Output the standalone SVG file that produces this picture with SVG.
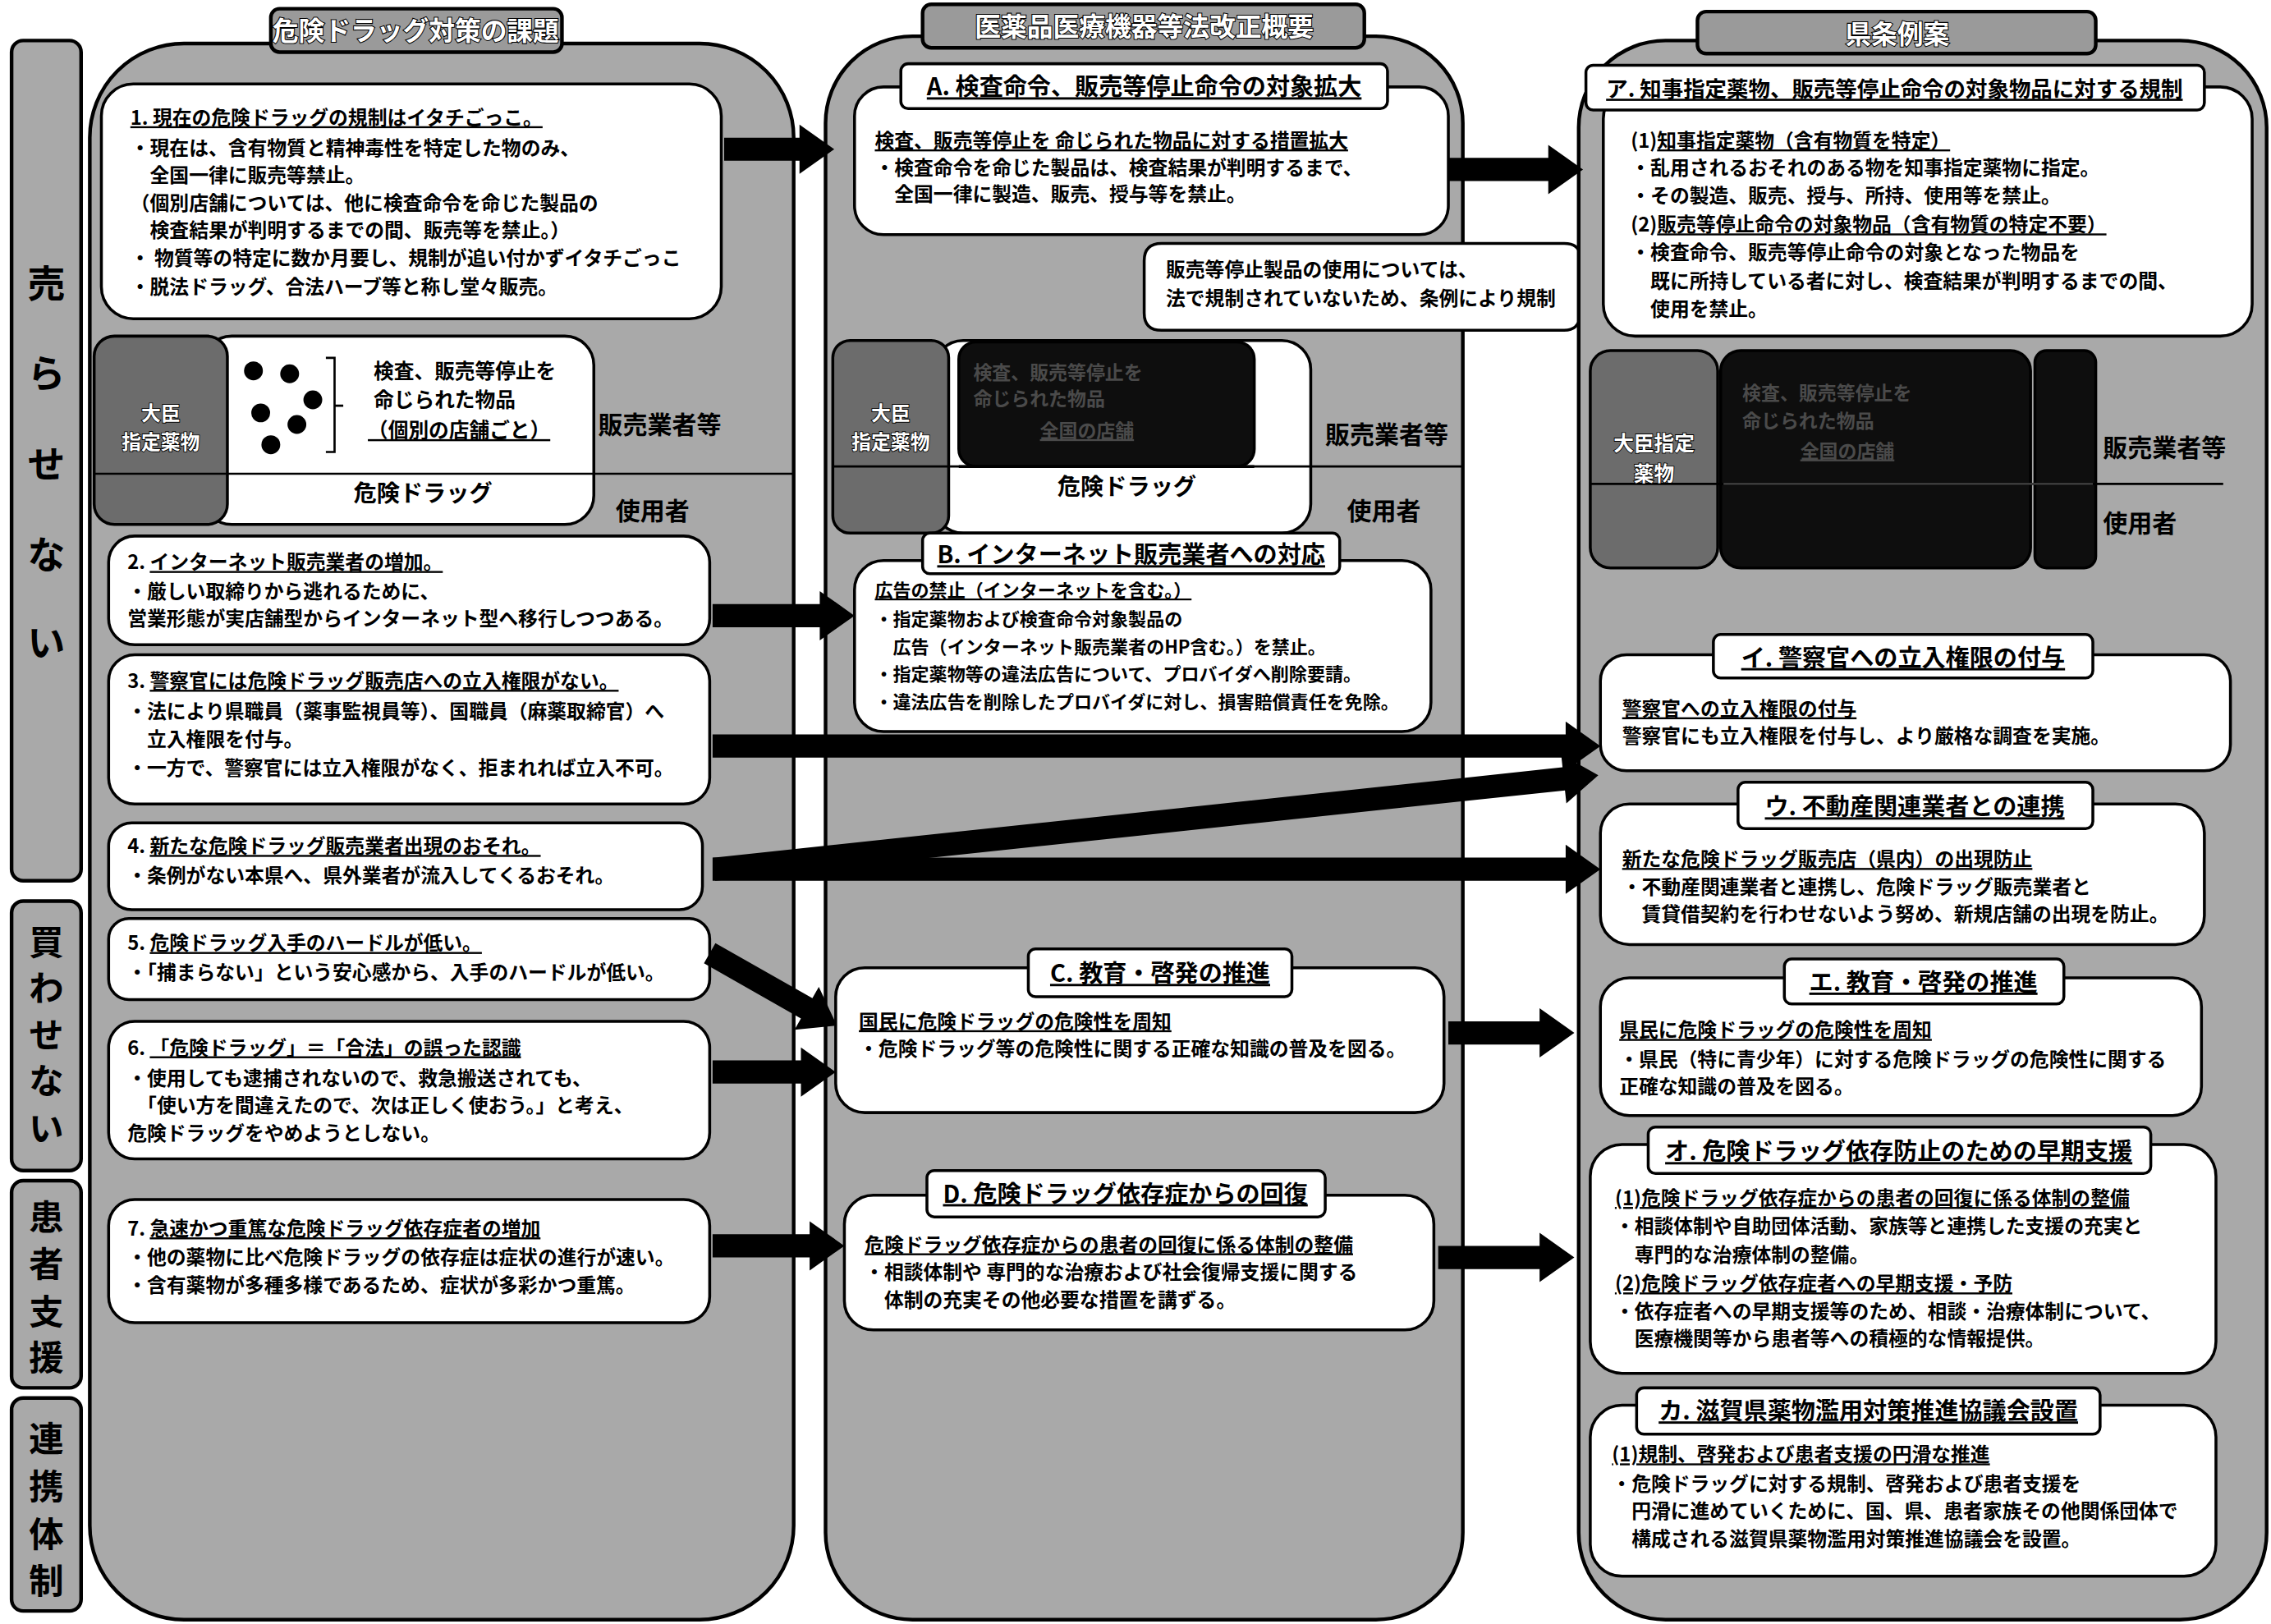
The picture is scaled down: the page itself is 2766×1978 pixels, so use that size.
<svg xmlns="http://www.w3.org/2000/svg" width="2766" height="1978" viewBox="0 0 2766 1978">
<style>
text{font-family:"Noto Sans CJK JP","Noto Sans CJK SC",sans-serif;font-weight:bold;fill:#000}
.t{font-size:13.5px}
.tb{font-size:12.5px}
.h{font-size:16.5px}
.ct{font-size:18px;fill:#fff;stroke:#000;stroke-width:1.2px;paint-order:stroke}
.big{font-size:26px;text-anchor:middle}
.mid{font-size:24px;text-anchor:middle}
.u{text-decoration:underline}
.panel{fill:#a9a9a9;stroke:#000;stroke-width:2.5}
.lbl{fill:#a9a9a9;stroke:#000;stroke-width:2.5}
.box{fill:#fff;stroke:#000;stroke-width:2}
.tab{fill:#fff;stroke:#000;stroke-width:2}
.ttab{fill:#9a9a9a;stroke:#000;stroke-width:2.5}
.dg{fill:#6c6c6c;stroke:#000;stroke-width:2}
.blk{fill:#0e0e0e;stroke:#000;stroke-width:2}
.wt{font-size:13.5px;fill:#fff;stroke:#000;stroke-width:1px;paint-order:stroke;text-anchor:middle}
.ft{font-size:13px;fill:#4a4a4a}
.role{font-size:17px}
.dv{stroke:#000;stroke-width:1.5}
.arr{fill:#000}
</style>
<rect width="2766" height="1978" fill="#fff"/>
<g transform="scale(1.76403,1.76449)">

<g id="side-labels">
<g id="lbl-urasenai"><rect class="lbl" x="8" y="28" width="48" height="580" rx="8"/>
<text class="big" x="32" y="205">売</text><text class="big" x="32" y="267">ら</text><text class="big" x="32" y="330">せ</text><text class="big" x="32" y="392">な</text><text class="big" x="32" y="453">い</text></g>
<g id="lbl-kawasenai"><rect class="lbl" x="8" y="622" width="48" height="186" rx="8"/>
<text class="mid" x="32" y="659">買</text><text class="mid" x="32" y="691">わ</text><text class="mid" x="32" y="723">せ</text><text class="mid" x="32" y="755">な</text><text class="mid" x="32" y="788">い</text></g>
<g id="lbl-kanja"><rect class="lbl" x="8" y="815" width="48" height="143" rx="8"/>
<text class="mid" x="32" y="849">患</text><text class="mid" x="32" y="881">者</text><text class="mid" x="32" y="914">支</text><text class="mid" x="32" y="946">援</text></g>
<g id="lbl-renkei"><rect class="lbl" x="8" y="965" width="48" height="147" rx="8"/>
<text class="mid" x="32" y="1002">連</text><text class="mid" x="32" y="1035">携</text><text class="mid" x="32" y="1068">体</text><text class="mid" x="32" y="1100">制</text></g>
</g>

<!-- Column 1 -->
<g id="col1">
<rect class="panel" x="62" y="30" width="486" height="1088" rx="65"/>
<rect class="ttab" x="187" y="6" width="201" height="30" rx="6"/>
<text class="ct" x="287" y="28" text-anchor="middle">危険ドラッグ対策の課題</text>
</g>

<g id="issue1">
<rect class="box" x="70" y="58" width="428" height="162" rx="22"/>
<text class="t" x="90" y="86"><tspan class="u">1. 現在の危険ドラッグの規制はイタチごっこ。</tspan></text>
<text class="t" x="90" y="107">・現在は、含有物質と精神毒性を特定した物のみ、</text>
<text class="t" x="90" y="126">　全国一律に販売等禁止。</text>
<text class="t" x="90" y="145">（個別店舗については、他に検査命令を命じた製品の</text>
<text class="t" x="90" y="164">　検査結果が判明するまでの間、販売等を禁止。）</text>
<text class="t" x="90" y="183">・ 物質等の特定に数か月要し、規制が追い付かずイタチごっこ</text>
<text class="t" x="90" y="203">・脱法ドラッグ、合法ハーブ等と称し堂々販売。</text>
</g>

<g id="diagram1">
<rect class="box" x="140" y="232" width="270" height="130" rx="20"/>
<rect class="dg" x="65" y="232" width="92" height="130" rx="14"/>
<line class="dv" x1="65" y1="327" x2="548" y2="327"/>
<text class="wt" x="111" y="290">大臣</text>
<text class="wt" x="111" y="310">指定薬物</text>
<circle cx="175" cy="256" r="6.5"/><circle cx="200" cy="258" r="6.5"/><circle cx="216" cy="276" r="6.5"/>
<circle cx="180" cy="285" r="6.5"/><circle cx="205" cy="293" r="6.5"/><circle cx="187" cy="307" r="6.5"/>
<path d="M225 247H231V312H225M231 280H237" fill="none" stroke="#000" stroke-width="1.5"/>
<text class="t" x="258" y="261" style="font-size:14px">検査、販売等停止を</text>
<text class="t" x="258" y="281" style="font-size:14px">命じられた物品</text>
<text class="t" x="254" y="302" style="font-size:14px"><tspan class="u">（個別の店舗ごと）</tspan></text>
<text x="292" y="346" style="font-size:16px" text-anchor="middle">危険ドラッグ</text>
<text class="role" x="413" y="299">販売業者等</text>
<text class="role" x="425" y="359">使用者</text>
</g>

<g id="issue2">
<rect class="box" x="75" y="370" width="415" height="75" rx="18"/>
<text class="t" x="88" y="393">2. <tspan class="u">インターネット販売業者の増加。</tspan></text>
<text class="t" x="88" y="413">・厳しい取締りから逃れるために、</text>
<text class="t" x="88" y="432">営業形態が実店舗型からインターネット型へ移行しつつある。</text>
</g>

<g id="issue3">
<rect class="box" x="75" y="452" width="415" height="103" rx="18"/>
<text class="t" x="88" y="475">3. <tspan class="u">警察官には危険ドラッグ販売店への立入権限がない。</tspan></text>
<text class="t" x="88" y="496">・法により県職員（薬事監視員等）、国職員（麻薬取締官）へ</text>
<text class="t" x="88" y="515">　立入権限を付与。</text>
<text class="t" x="88" y="535">・一方で、警察官には立入権限がなく、拒まれれば立入不可。</text>
</g>

<g id="issue4">
<rect class="box" x="75" y="568" width="410" height="60" rx="16"/>
<text class="t" x="88" y="589">4. <tspan class="u">新たな危険ドラッグ販売業者出現のおそれ。</tspan></text>
<text class="t" x="88" y="609">・条例がない本県へ、県外業者が流入してくるおそれ。</text>
</g>

<g id="issue5">
<rect class="box" x="75" y="634" width="415" height="56" rx="14"/>
<text class="t" x="88" y="656">5. <tspan class="u">危険ドラッグ入手のハードルが低い。</tspan></text>
<text class="t" x="88" y="676">・「捕まらない」という安心感から、入手のハードルが低い。</text>
</g>

<g id="issue6">
<rect class="box" x="75" y="705" width="415" height="95" rx="18"/>
<text class="t" x="88" y="728">6. <tspan class="u">「危険ドラッグ」＝「合法」の誤った認識</tspan></text>
<text class="t" x="88" y="749">・使用しても逮捕されないので、救急搬送されても、</text>
<text class="t" x="88" y="768">　「使い方を間違えたので、次は正しく使おう。」と考え、</text>
<text class="t" x="88" y="787">危険ドラッグをやめようとしない。</text>
</g>

<g id="issue7">
<rect class="box" x="75" y="828" width="415" height="85" rx="18"/>
<text class="t" x="88" y="853">7. <tspan class="u">急速かつ重篤な危険ドラッグ依存症者の増加</tspan></text>
<text class="t" x="88" y="873">・他の薬物に比べ危険ドラッグの依存症は症状の進行が速い。</text>
<text class="t" x="88" y="892">・含有薬物が多種多様であるため、症状が多彩かつ重篤。</text>
</g>

<!-- Column 2 -->
<g id="col2">
<rect class="panel" x="570" y="25" width="440" height="1093" rx="60"/>
<rect class="ttab" x="637" y="3" width="305" height="30" rx="6"/>
<text class="ct" x="790" y="25" text-anchor="middle">医薬品医療機器等法改正概要</text>
</g>

<g id="lawA">
<rect class="box" x="590" y="60" width="410" height="102" rx="20"/>
<rect class="tab" x="622" y="44" width="336" height="31" rx="5"/>
<text class="h" x="790" y="66" text-anchor="middle"><tspan class="u">A. 検査命令、販売等停止命令の対象拡大</tspan></text>
<text class="t" x="604" y="102"><tspan class="u">検査、販売等停止を 命じられた物品に対する措置拡大</tspan></text>
<text class="t" x="604" y="121">・検査命令を命じた製品は、検査結果が判明するまで、</text>
<text class="t" x="604" y="139">　全国一律に製造、販売、授与等を禁止。</text>
</g>

<g id="callout">
<path d="M802 168H1080Q1090 168 1091 176L1106 175L1091 190V218Q1090 228 1080 228H802Q790 228 790 216V180Q790 168 802 168Z" fill="#fff" stroke="#000" stroke-width="2"/>
<text class="t" x="805" y="191">販売等停止製品の使用については、</text>
<text class="t" x="805" y="211">法で規制されていないため、条例により規制</text>
</g>

<g id="diagram2">
<rect class="box" x="645" y="235" width="260" height="133" rx="20"/>
<rect class="blk" x="662" y="236" width="204" height="86" rx="12"/>
<rect class="dg" x="575" y="235" width="80" height="133" rx="12"/>
<line class="dv" x1="575" y1="322" x2="1010" y2="322"/>
<line x1="662" y1="322" x2="866" y2="322" stroke="#000" stroke-width="2"/>
<text class="ft" x="672" y="262">検査、販売等停止を</text>
<text class="ft" x="672" y="280">命じられた物品</text>
<text class="ft u" x="718" y="302">全国の店舗</text>
<text class="wt" x="615" y="290">大臣</text>
<text class="wt" x="615" y="310">指定薬物</text>
<text x="778" y="342" style="font-size:16px" text-anchor="middle">危険ドラッグ</text>
<text class="role" x="915" y="306">販売業者等</text>
<text class="role" x="930" y="359">使用者</text>
</g>

<g id="lawB">
<rect class="box" x="590" y="387" width="398" height="118" rx="20"/>
<rect class="tab" x="637" y="368" width="288" height="28" rx="5"/>
<text class="h" x="781" y="389" text-anchor="middle"><tspan class="u">B. インターネット販売業者への対応</tspan></text>
<text class="tb" x="604" y="412"><tspan class="u">広告の禁止（インターネットを含む。）</tspan></text>
<text class="tb" x="604" y="432">・指定薬物および検査命令対象製品の</text>
<text class="tb" x="604" y="451">　広告（インターネット販売業者のHP含む。）を禁止。</text>
<text class="tb" x="604" y="470">・指定薬物等の違法広告について、プロバイダへ削除要請。</text>
<text class="tb" x="604" y="489">・違法広告を削除したプロバイダに対し、損害賠償責任を免除。</text>
</g>

<g id="lawC">
<rect class="box" x="577" y="668" width="420" height="100" rx="20"/>
<rect class="tab" x="710" y="655" width="182" height="33" rx="5"/>
<text class="h" x="801" y="678" text-anchor="middle"><tspan class="u">C. 教育・啓発の推進</tspan></text>
<text class="t" x="593" y="710"><tspan class="u">国民に危険ドラッグの危険性を周知</tspan></text>
<text class="t" x="593" y="729">・危険ドラッグ等の危険性に関する正確な知識の普及を図る。</text>
</g>

<g id="lawD">
<rect class="box" x="583" y="825" width="407" height="93" rx="20"/>
<rect class="tab" x="640" y="808" width="275" height="32" rx="5"/>
<text class="h" x="777" y="830" text-anchor="middle"><tspan class="u">D. 危険ドラッグ依存症からの回復</tspan></text>
<text class="t" x="597" y="864"><tspan class="u">危険ドラッグ依存症からの患者の回復に係る体制の整備</tspan></text>
<text class="t" x="597" y="883">・相談体制や 専門的な治療および社会復帰支援に関する</text>
<text class="t" x="597" y="902">　体制の充実その他必要な措置を講ずる。</text>
</g>

<!-- Column 3 -->
<g id="col3">
<rect class="panel" x="1090" y="28" width="475" height="1090" rx="60"/>
<rect class="ttab" x="1172" y="8" width="275" height="29" rx="6"/>
<text class="ct" x="1310" y="30" text-anchor="middle">県条例案</text>
</g>

<g id="ordA">
<rect class="box" x="1107" y="60" width="448" height="172" rx="22"/>
<rect class="tab" x="1095" y="45" width="427" height="31" rx="5"/>
<text class="h" x="1308" y="67" text-anchor="middle" style="font-size:15px"><tspan class="u">ア. 知事指定薬物、販売等停止命令の対象物品に対する規制</tspan></text>
<text class="t" x="1126" y="102">(1)<tspan class="u">知事指定薬物（含有物質を特定）</tspan></text>
<text class="t" x="1126" y="121">・乱用されるおそれのある物を知事指定薬物に指定。</text>
<text class="t" x="1126" y="140">・その製造、販売、授与、所持、使用等を禁止。</text>
<text class="t" x="1126" y="160">(2)<tspan class="u">販売等停止命令の対象物品（含有物質の特定不要）</tspan></text>
<text class="t" x="1126" y="179">・検査命令、販売等停止命令の対象となった物品を</text>
<text class="t" x="1126" y="199">　既に所持している者に対し、検査結果が判明するまでの間、</text>
<text class="t" x="1126" y="218">　使用を禁止。</text>
</g>

<g id="diagram3">
<rect class="dg" x="1098" y="242" width="88" height="150" rx="14"/>
<rect class="blk" x="1188" y="242" width="214" height="150" rx="14"/>
<rect class="blk" x="1405" y="242" width="42" height="150" rx="8"/>
<line class="dv" x1="1098" y1="334" x2="1535" y2="334"/>
<line x1="1190" y1="334" x2="1445" y2="334" stroke="#555" stroke-width="1"/>
<text class="ft" x="1203" y="276">検査、販売等停止を</text>
<text class="ft" x="1203" y="295">命じられた物品</text>
<text class="ft u" x="1243" y="316">全国の店舗</text>
<text class="wt" x="1142" y="311" style="font-size:14px">大臣指定</text>
<text class="wt" x="1142" y="332" style="font-size:14px">薬物</text>
<text class="role" x="1452" y="315">販売業者等</text>
<text class="role" x="1452" y="367">使用者</text>
</g>

<g id="ordI">
<rect class="box" x="1105" y="452" width="435" height="80" rx="18"/>
<rect class="tab" x="1183" y="438" width="262" height="30" rx="5"/>
<text class="h" x="1314" y="460" text-anchor="middle"><tspan class="u">イ. 警察官への立入権限の付与</tspan></text>
<text class="t" x="1120" y="494"><tspan class="u">警察官への立入権限の付与</tspan></text>
<text class="t" x="1120" y="513">警察官にも立入権限を付与し、より厳格な調査を実施。</text>
</g>

<g id="ordU">
<rect class="box" x="1105" y="555" width="417" height="97" rx="20"/>
<rect class="tab" x="1200" y="540" width="245" height="32" rx="5"/>
<text class="h" x="1322" y="563" text-anchor="middle"><tspan class="u">ウ. 不動産関連業者との連携</tspan></text>
<text class="t" x="1120" y="598"><tspan class="u">新たな危険ドラッグ販売店（県内）の出現防止</tspan></text>
<text class="t" x="1120" y="617">・不動産関連業者と連携し、危険ドラッグ販売業者と</text>
<text class="t" x="1120" y="636">　賃貸借契約を行わせないよう努め、新規店舗の出現を防止。</text>
</g>

<g id="ordE">
<rect class="box" x="1105" y="675" width="415" height="95" rx="20"/>
<rect class="tab" x="1232" y="662" width="193" height="31" rx="5"/>
<text class="h" x="1328" y="684" text-anchor="middle"><tspan class="u">エ. 教育・啓発の推進</tspan></text>
<text class="t" x="1118" y="716"><tspan class="u">県民に危険ドラッグの危険性を周知</tspan></text>
<text class="t" x="1118" y="736">・県民（特に青少年）に対する危険ドラッグの危険性に関する</text>
<text class="t" x="1118" y="755">正確な知識の普及を図る。</text>
</g>

<g id="ordO">
<rect class="box" x="1098" y="790" width="432" height="158" rx="22"/>
<rect class="tab" x="1138" y="778" width="347" height="32" rx="5"/>
<text class="h" x="1311" y="801" text-anchor="middle"><tspan class="u">オ. 危険ドラッグ依存防止のための早期支援</tspan></text>
<text class="t" x="1115" y="832"><tspan class="u">(1)危険ドラッグ依存症からの患者の回復に係る体制の整備</tspan></text>
<text class="t" x="1115" y="851">・相談体制や自助団体活動、家族等と連携した支援の充実と</text>
<text class="t" x="1115" y="871">　専門的な治療体制の整備。</text>
<text class="t" x="1115" y="891"><tspan class="u">(2)危険ドラッグ依存症者への早期支援・予防</tspan></text>
<text class="t" x="1115" y="910">・依存症者への早期支援等のため、相談・治療体制について、</text>
<text class="t" x="1115" y="929">　医療機関等から患者等への積極的な情報提供。</text>
</g>

<g id="ordKa">
<rect class="box" x="1098" y="970" width="432" height="118" rx="22"/>
<rect class="tab" x="1130" y="958" width="320" height="32" rx="5"/>
<text class="h" x="1290" y="980" text-anchor="middle"><tspan class="u">カ. 滋賀県薬物濫用対策推進協議会設置</tspan></text>
<text class="t" x="1113" y="1009"><tspan class="u">(1)規制、啓発および患者支援の円滑な推進</tspan></text>
<text class="t" x="1113" y="1029">・危険ドラッグに対する規制、啓発および患者支援を</text>
<text class="t" x="1113" y="1048">　円滑に進めていくために、国、県、患者家族その他関係団体で</text>
<text class="t" x="1113" y="1067">　構成される滋賀県薬物濫用対策推進協議会を設置。</text>
</g>

<g id="connectors">
<polygon class="arr" points="500,95 552,95 552,86 576,103 552,120 552,111 500,111"/>
<polygon class="arr" points="1000,109 1069,109 1069,100 1093,117 1069,134 1069,125 1000,125"/>
<polygon class="arr" points="492,417 566,417 566,408 590,425 566,442 566,433 492,433"/>
<polygon class="arr" points="492,507 1081,507 1081,498 1105,515 1081,532 1081,523 492,523"/>
<polygon class="arr" transform="translate(493,600) rotate(-6.07)" points="0,-8 590,-8 590,-17 614,0 590,17 590,8 0,8"/>
<polygon class="arr" points="492,592 1081,592 1081,583 1105,600 1081,617 1081,608 492,608"/>
<polygon class="arr" transform="translate(490,658) rotate(29.6)" points="0,-8 77,-8 77,-17 101,0 77,17 77,8 0,8"/>
<polygon class="arr" points="492,732 553,732 553,723 577,740 553,757 553,748 492,748"/>
<polygon class="arr" points="1000,705 1063,705 1063,696 1087,713 1063,730 1063,721 1000,721"/>
<polygon class="arr" points="492,852 559,852 559,843 583,860 559,877 559,868 492,868"/>
<polygon class="arr" points="993,860 1063,860 1063,851 1087,868 1063,885 1063,876 993,876"/>
</g>
</g>
</svg>
